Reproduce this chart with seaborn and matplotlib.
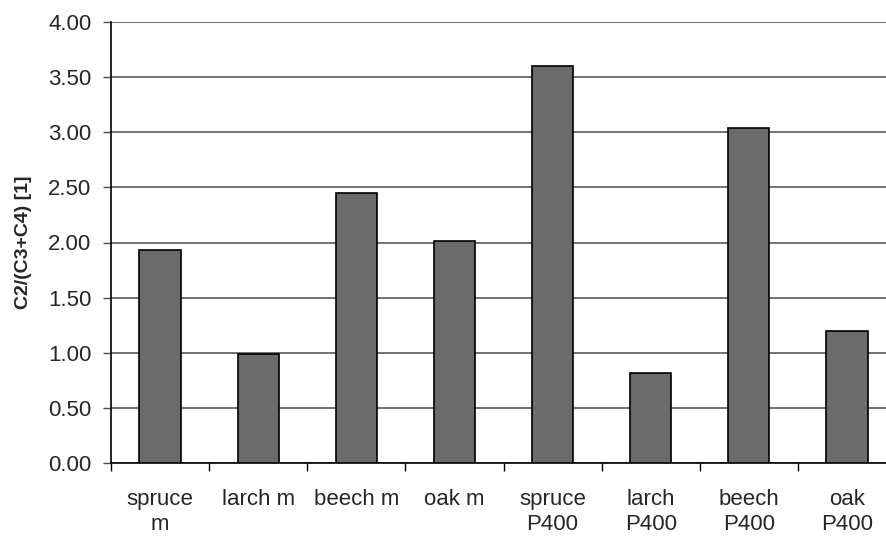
import numpy as np
import pandas as pd
import matplotlib
matplotlib.use("Agg")
import matplotlib.pyplot as plt
import seaborn as sns

# datos
categories = ["spruce\nm", "larch m", "beech m", "oak m",
              "spruce\nP400", "larch\nP400", "beech\nP400", "oak\nP400"]
ratio = [1.93, 0.99, 2.45, 2.01, 3.60, 0.82, 3.04, 1.20]
y_ticks = [0.0, 0.5, 1.0, 1.5, 2.0, 2.5, 3.0, 3.5, 4.0]

df = pd.DataFrame({"cat": categories, "ratio": ratio})

sns.set_style("white")
plt.rcParams["font.family"] = ["Liberation Sans", "DejaVu Sans"]

fig = plt.figure(figsize=(8.86, 5.38), dpi=100)
ax = fig.add_axes([111 / 886, 75 / 538, 785 / 886, 441 / 538])

sns.barplot(data=df, x="cat", y="ratio", color="#6b6b6b", saturation=1,
            width=0.42, edgecolor="black", linewidth=1.2, ax=ax, zorder=3)

ax.set_ylim(0, 4)
ax.set_xlim(-0.5, len(categories) - 0.5)
ax.set_yticks(y_ticks)
ax.set_yticklabels([f"{v:.2f}" for v in y_ticks], fontsize=16)
ax.yaxis.grid(True, color="#4a4a4a", linewidth=1.1, zorder=0)
ax.set_axisbelow(True)

# marcas entre categorias
ax.set_xticks(np.arange(len(categories) + 1) - 0.5, minor=True)
ax.tick_params(axis="x", which="minor", length=6, width=1, color="black", direction="out", bottom=True)
ax.tick_params(axis="x", which="major", length=0, pad=19, labelsize=16)
ax.tick_params(axis="y", which="major", length=6, width=1, color="#4a4a4a", direction="out", left=True, pad=8)

for side in ["top", "right"]:
    ax.spines[side].set_visible(False)
ax.spines["left"].set_color("black")
ax.spines["bottom"].set_color("black")
ax.spines["left"].set_linewidth(1.2)
ax.spines["bottom"].set_linewidth(1.2)

ax.set_xlabel("")
ax.set_ylabel("C2/(C3+C4) [1]", fontsize=14, fontweight="bold", labelpad=12)

plt.savefig("out.png", dpi=100)
